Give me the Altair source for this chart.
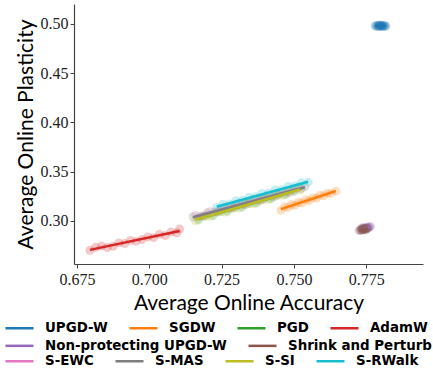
import altair as alt
import pandas as pd

methods = ["UPGD-W", "SGDW", "PGD", "AdamW", "Non-protecting UPGD-W",
           "Shrink and Perturb", "S-EWC", "S-MAS", "S-SI", "S-RWalk"]
colors = ["#1f77b4", "#ff7f0e", "#2ca02c", "#d62728", "#9467bd",
          "#8c564b", "#e377c2", "#7f7f7f", "#bcbd22", "#17becf"]

upgdw_acc = [0.7780, 0.7785, 0.7788, 0.7790, 0.7793, 0.7795, 0.7797, 0.7799,
             0.7801, 0.7803, 0.7805, 0.7807, 0.7809, 0.7812, 0.7815, 0.7818]
upgdw_pla = [0.4982, 0.4975, 0.4988, 0.4979, 0.4985, 0.4972, 0.4990, 0.4980,
             0.4976, 0.4986, 0.4981, 0.4973, 0.4984, 0.4978, 0.4983, 0.4977]

sgdw_acc = [0.7455, 0.7468, 0.7480, 0.7492, 0.7503, 0.7515, 0.7527, 0.7540,
            0.7552, 0.7565, 0.7578, 0.7590, 0.7603, 0.7615, 0.7628, 0.7645]
sgdw_pla = [0.3105, 0.3140, 0.3135, 0.3165, 0.3158, 0.3185, 0.3180, 0.3212,
            0.3205, 0.3232, 0.3230, 0.3258, 0.3255, 0.3280, 0.3278, 0.3300]

pgd_acc = [0.7170, 0.7195, 0.7220, 0.7245, 0.7270, 0.7295, 0.7320, 0.7345,
           0.7370, 0.7395, 0.7420, 0.7445, 0.7470, 0.7500]
pgd_pla = [0.3010, 0.3048, 0.3053, 0.3090, 0.3095, 0.3132, 0.3138, 0.3175,
           0.3180, 0.3217, 0.3222, 0.3260, 0.3265, 0.3298]

adamw_acc = [0.6795, 0.6815, 0.6835, 0.6855, 0.6875, 0.6895, 0.6915, 0.6935,
             0.6955, 0.6975, 0.6995, 0.7015, 0.7035, 0.7055, 0.7075, 0.7095, 0.7105]
adamw_pla = [0.2700, 0.2730, 0.2742, 0.2728, 0.2740, 0.2775, 0.2768, 0.2800,
             0.2790, 0.2810, 0.2835, 0.2828, 0.2862, 0.2850, 0.2885, 0.2878, 0.2915]

npupgd_acc = [0.7730, 0.7735, 0.7740, 0.7743, 0.7746, 0.7749, 0.7752, 0.7755,
              0.7758, 0.7762, 0.7765, 0.7738]
npupgd_pla = [0.2905, 0.2915, 0.2910, 0.2925, 0.2918, 0.2930, 0.2922, 0.2935,
              0.2928, 0.2938, 0.2940, 0.2932]

snp_acc = [0.7725, 0.7730, 0.7734, 0.7737, 0.7740, 0.7743, 0.7746, 0.7749,
           0.7752, 0.7756, 0.7735, 0.7748]
snp_pla = [0.2900, 0.2908, 0.2903, 0.2915, 0.2910, 0.2920, 0.2913, 0.2925,
           0.2918, 0.2928, 0.2922, 0.2906]

sewc_acc = [0.7160, 0.7185, 0.7210, 0.7235, 0.7260, 0.7285, 0.7310, 0.7335,
            0.7360, 0.7385, 0.7410, 0.7435, 0.7460, 0.7485, 0.7515]
sewc_pla = [0.3055, 0.3050, 0.3095, 0.3090, 0.3135, 0.3128, 0.3175, 0.3168,
            0.3215, 0.3208, 0.3255, 0.3247, 0.3292, 0.3287, 0.3335]

smas_acc = [0.7151, 0.7175, 0.7200, 0.7225, 0.7250, 0.7275, 0.7300, 0.7325,
            0.7350, 0.7375, 0.7400, 0.7425, 0.7450, 0.7475, 0.7500, 0.7525, 0.7538]
smas_pla = [0.3040, 0.3045, 0.3080, 0.3088, 0.3120, 0.3125, 0.3160, 0.3165,
            0.3200, 0.3205, 0.3238, 0.3245, 0.3278, 0.3285, 0.3315, 0.3325, 0.3345]

ssi_acc = [0.7160, 0.7185, 0.7210, 0.7235, 0.7260, 0.7285, 0.7310, 0.7335,
           0.7360, 0.7385, 0.7410, 0.7435, 0.7460, 0.7485, 0.7521]
ssi_pla = [0.3000, 0.3040, 0.3045, 0.3085, 0.3088, 0.3125, 0.3130, 0.3168,
           0.3172, 0.3210, 0.3215, 0.3252, 0.3258, 0.3292, 0.3312]

srwalk_acc = [0.7233, 0.7255, 0.7278, 0.7300, 0.7323, 0.7345, 0.7368, 0.7390,
              0.7413, 0.7435, 0.7458, 0.7480, 0.7503, 0.7525, 0.7549]
srwalk_pla = [0.3135, 0.3168, 0.3170, 0.3204, 0.3208, 0.3240, 0.3243, 0.3277,
              0.3280, 0.3312, 0.3316, 0.3348, 0.3352, 0.3385, 0.3392]

series = {
    "UPGD-W": (upgdw_acc, upgdw_pla),
    "SGDW": (sgdw_acc, sgdw_pla),
    "PGD": (pgd_acc, pgd_pla),
    "AdamW": (adamw_acc, adamw_pla),
    "Non-protecting UPGD-W": (npupgd_acc, npupgd_pla),
    "Shrink and Perturb": (snp_acc, snp_pla),
    "S-EWC": (sewc_acc, sewc_pla),
    "S-MAS": (smas_acc, smas_pla),
    "S-SI": (ssi_acc, ssi_pla),
    "S-RWalk": (srwalk_acc, srwalk_pla),
}

rows = []
for m in methods:
    a, p = series[m]
    for xa, yp in zip(a, p):
        rows.append({"method": m, "acc": xa, "plast": yp})
df = pd.DataFrame(rows)

x_ticks = [0.675, 0.700, 0.725, 0.750, 0.775]
y_ticks = [0.30, 0.35, 0.40, 0.45, 0.50]

AXIS_COLOR = "#444444"
SERIF = "Liberation Serif"
SANS = "Lato"

X = alt.X("acc:Q",
          scale=alt.Scale(domain=[0.6740, 0.7946], nice=False, zero=False),
          axis=alt.Axis(values=x_ticks, format=".3f", title="Average Online Accuracy",
                        grid=False, labelFont=SERIF, labelFontSize=16,
                        labelColor="#222222", tickSize=4, tickColor=AXIS_COLOR,
                        domainColor=AXIS_COLOR, domainWidth=1.2, labelPadding=3,
                        titleFont=SANS, titleFontSize=21, titleFontWeight="normal",
                        titleColor="#000000", titlePadding=5))
Y = alt.Y("plast:Q",
          scale=alt.Scale(domain=[0.2560, 0.5203], nice=False, zero=False),
          axis=alt.Axis(values=y_ticks, format=".2f", title="Average Online Plasticity",
                        grid=False, labelFont=SERIF, labelFontSize=16,
                        labelColor="#222222", tickSize=4, tickColor=AXIS_COLOR,
                        domainColor=AXIS_COLOR, domainWidth=1.2, labelPadding=2,
                        titleFont=SANS, titleFontSize=21, titleFontWeight="normal",
                        titleColor="#000000", titlePadding=4))

groups = [
    (["UPGD-W", "SGDW", "PGD", "AdamW"], 308.7),
    (["Non-protecting UPGD-W", "Shrink and Perturb"], 326.3),
    (["S-EWC", "S-MAS", "S-SI", "S-RWalk"], 341.7),
]

layers = []
for names, ly in groups:
    cols = [colors[methods.index(n)] for n in names]
    sub = df[df["method"].isin(names)]
    base = alt.Chart(sub)
    pts = base.mark_circle(size=80, opacity=0.25).encode(
        x=X, y=Y,
        fill=alt.Fill("method:N", scale=alt.Scale(domain=names, range=cols), legend=None),
    )
    lines = base.transform_regression("acc", "plast", groupby=["method"]).mark_line(
        strokeWidth=2.5).encode(
        x=X, y=Y,
        color=alt.Color("method:N", scale=alt.Scale(domain=names, range=cols),
                        legend=alt.Legend(orient="none", legendX=-70, legendY=ly,
                                          direction="horizontal", title=None,
                                          symbolType="stroke", symbolSize=784,
                                          symbolStrokeWidth=2.5, padding=0,
                                          labelFont="DejaVu Sans", labelFontSize=13.4,
                                          labelFontWeight="bold", labelColor="#000000",
                                          labelLimit=300, labelOffset=10,
                                          columnPadding=16)),
    )
    layers.append(pts)
    layers.append(lines)

chart = alt.layer(*layers).resolve_scale(
    fill="independent", color="independent"
).resolve_legend(color="independent").properties(
    width=349, height=260,
    autosize=alt.AutoSizeParams(type="none"),
    padding={"left": 74, "top": 4, "right": 10, "bottom": 106},
).configure_view(strokeWidth=0)

chart.save("out.html", embed_options={"renderer": "svg", "actions": False})
